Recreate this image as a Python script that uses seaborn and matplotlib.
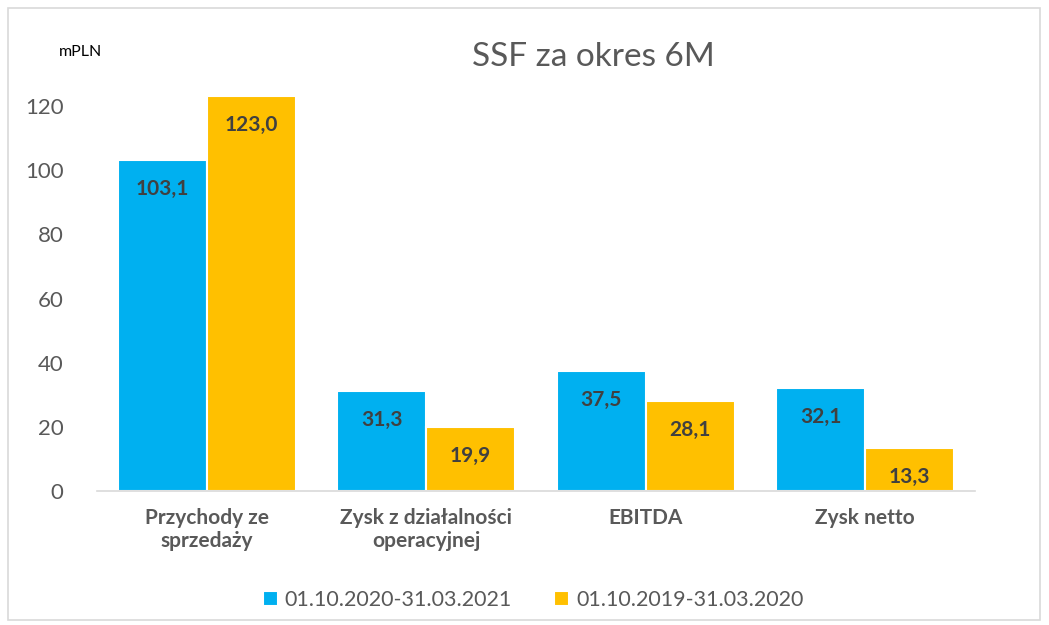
import matplotlib
matplotlib.use("Agg")
import matplotlib.pyplot as plt
from matplotlib.patches import Rectangle
import pandas as pd
import seaborn as sns

# Data
categories = ["Przychody ze\nsprzedaży", "Zysk z działalności\noperacyjnej", "EBITDA", "Zysk netto"]
periods = ["01.10.2020-31.03.2021", "01.10.2019-31.03.2020"]
values_2021 = [103.1, 31.3, 37.5, 32.1]
values_2020 = [123.0, 19.9, 28.1, 13.3]
colors = ["#00B0F0", "#FFC000"]

df = pd.DataFrame({
    "category": categories * 2,
    "period": [periods[0]] * 4 + [periods[1]] * 4,
    "value": values_2021 + values_2020,
})

sns.set_style("white")
plt.rcParams["font.family"] = ["Lato", "DejaVu Sans"]
text_col = "#595959"

fig = plt.figure(figsize=(10.49, 6.25), dpi=100)
ax = fig.add_axes([97 / 1049, 1 - 491 / 625, 878 / 1049, (491 - 74) / 625])

sns.barplot(data=df, x="category", y="value", hue="period", palette=colors,
            saturation=1, width=0.81, edgecolor="white", linewidth=1.5, ax=ax, legend=True)

ax.set_ylim(0, 130)
ax.set_xlim(-0.5, 3.5)
ax.set_yticks(range(0, 121, 20))
ax.tick_params(axis="y", labelsize=16, colors=text_col, length=0, pad=24)
ax.tick_params(axis="x", labelsize=15, colors=text_col, length=0, pad=12)
for lbl in ax.get_xticklabels():
    lbl.set_fontweight("bold")
ax.set_xlabel("")
ax.set_ylabel("")
for s in ["top", "right", "left"]:
    ax.spines[s].set_visible(False)
ax.spines["bottom"].set_color("#D9D9D9")
ax.spines["bottom"].set_linewidth(1.2)

# value labels inside bars
for cont in ax.containers:
    for bar in cont:
        h = bar.get_height()
        ax.annotate(f"{h:.1f}".replace(".", ","),
                    (bar.get_x() + bar.get_width() / 2, h),
                    xytext=(0, -28), textcoords="offset points",
                    ha="center", va="bottom", fontsize=15, fontweight="bold",
                    color="#404040")

ax.legend(loc="center", bbox_to_anchor=(0.508, 1 - 600 / 625), bbox_transform=fig.transFigure,
          ncol=2, frameon=False, fontsize=15.5, labelcolor=text_col,
          handlelength=0.7, handleheight=0.7, handletextpad=0.3, columnspacing=2.0)

fig.text(593 / 1049, 1 - 57 / 625, "SSF za okres 6M", ha="center", va="center",
         fontsize=24, color=text_col)
fig.text(80 / 1049, 1 - 52 / 625, "mPLN", ha="center", va="center", fontsize=11.5, color="black")

fig.patches.append(Rectangle((8 / 1049, 1 - 620 / 625), 1032 / 1049, 612 / 625,
                             transform=fig.transFigure, fill=False,
                             edgecolor="#D9D9D9", linewidth=1.2))

fig.savefig("out.png", dpi=100)
